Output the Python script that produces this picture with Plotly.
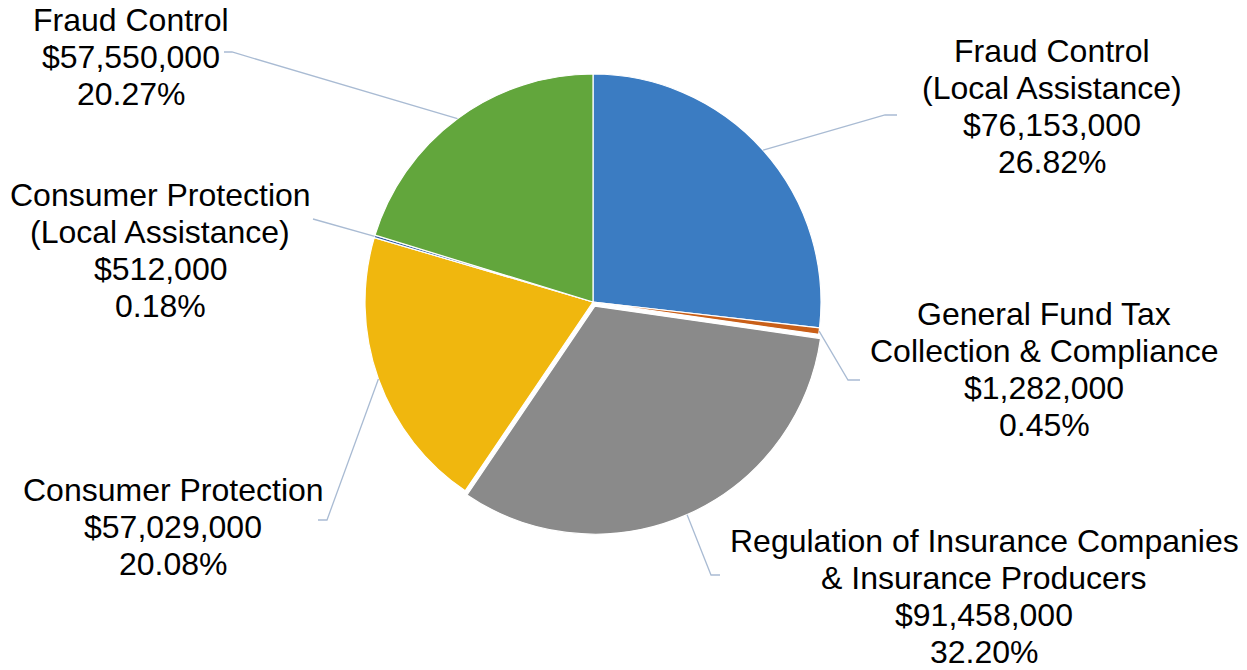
import math
import plotly.graph_objects as go

W, H = 1247, 670

# ---- data ----
category_lines = [
    ["Fraud Control", "(Local Assistance)"],
    ["General Fund Tax", "Collection & Compliance"],
    ["Regulation of Insurance Companies", "& Insurance Producers"],
    ["Consumer Protection"],
    ["Consumer Protection", "(Local Assistance)"],
    ["Fraud Control"],
]
values = [76153000, 1282000, 91458000, 57029000, 512000, 57550000]
percent_labels = ["26.82%", "0.45%", "32.20%", "20.08%", "0.18%", "20.27%"]

colors = ["#3B7CC2", "#C95F18", "#8A8A8A", "#F0B70E", "#2C5AA0", "#62A63C"]
pulls = [0, 0, 0.02, 0, 0, 0]

# ---- layout geometry (pixels) ----
cx, cy, r = 593, 302, 228
half = r * (1 + max(pulls))
FONT_SIZE = 32
LINE_GAP = 37

def px(x):
    return x / W

def py(y):
    return 1 - y / H

# label block: centre x and first-line centre y (pixels)
label_pos = [(1052, 51), (1044, 314), (984, 541), (173, 490), (160, 195), (131, 20)]
elbows = [[(885, 115), (897, 115)],
          [(848, 380), (860, 380)],
          [(711, 575), (720, 575)],
          [(327, 520), (318, 520)],
          [(313, 219)],
          [(232, 52), (224, 52)]]

fig = go.Figure(go.Pie(
    labels=[" ".join(c) for c in category_lines],
    values=values,
    sort=False,
    direction="clockwise",
    rotation=0,
    pull=pulls,
    textinfo="none",
    hoverinfo="label+value+percent",
    marker=dict(colors=colors, line=dict(color="white", width=1.2)),
    domain=dict(x=[px(cx - half), px(cx + half)], y=[py(cy + half), py(cy - half)]),
    showlegend=False,
))

total = sum(values)
cum = 0
shapes = []
annotations = []
for i, v in enumerate(values):
    mid = (cum + v / 2) / total * 2 * math.pi
    cum += v
    rr = r * (1 + pulls[i])
    sx = cx + rr * math.sin(mid)
    sy = cy - rr * math.cos(mid)
    pts = [(sx, sy)] + elbows[i]
    path = "M {} {}".format(px(pts[0][0]), py(pts[0][1]))
    for (x, y) in pts[1:]:
        path += " L {} {}".format(px(x), py(y))
    shapes.append(dict(type="path", xref="paper", yref="paper", path=path,
                       line=dict(color="#A9BBD3", width=1.3)))
    lines = category_lines[i] + ["${:,}".format(v), percent_labels[i]]
    lx, ly = label_pos[i]
    for k, t in enumerate(lines):
        annotations.append(dict(x=px(lx), y=py(ly + k * LINE_GAP), xref="paper", yref="paper",
                                text=t, showarrow=False, xanchor="center", yanchor="middle",
                                align="center",
                                font=dict(family="Liberation Sans, Arial", size=FONT_SIZE,
                                          color="#000000")))

fig.update_layout(
    width=W, height=H,
    margin=dict(l=0, r=0, t=0, b=0),
    paper_bgcolor="white",
    plot_bgcolor="white",
    shapes=shapes,
    annotations=annotations,
)

fig.write_html("out.html")
